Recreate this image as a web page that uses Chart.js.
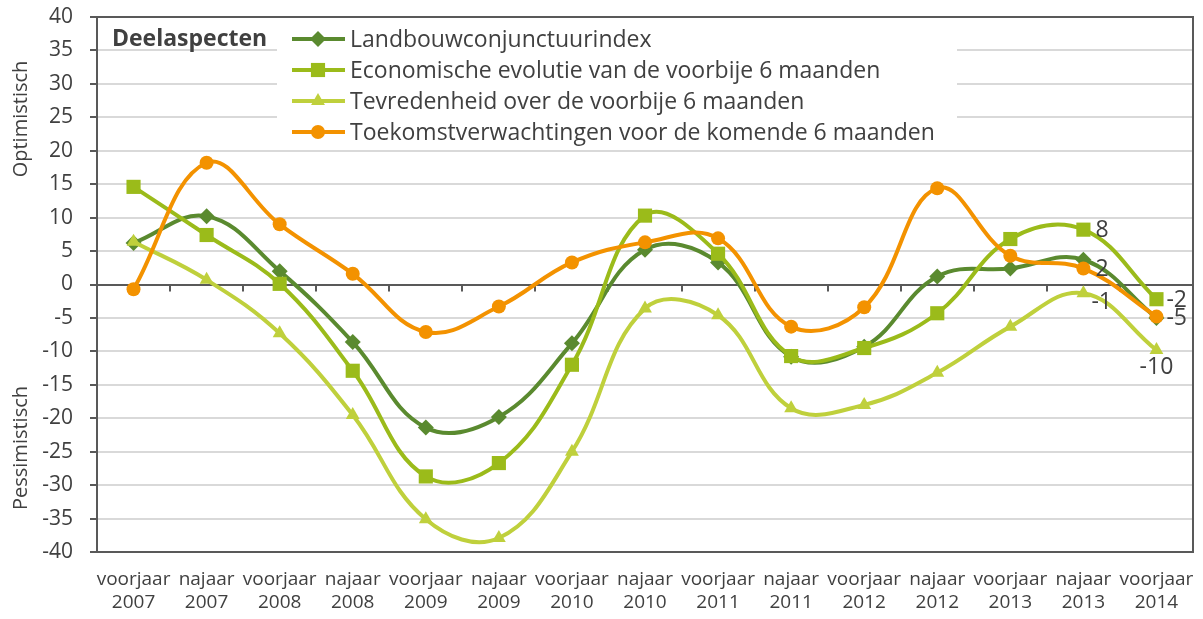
<!DOCTYPE html>
<html>
<head>
<meta charset="utf-8">
<script src="https://cdn.jsdelivr.net/npm/chart.js@4/dist/chart.umd.min.js"></script>
<style>
  body { margin: 0; background: #fff; }
  #wrap { width: 1203px; height: 619px; }
</style>
</head>
<body>
<div id="wrap"><canvas id="chart" width="1203" height="619"></canvas></div>
<script>
// categories (two-line labels) and series
var periods = [
  ['voorjaar', '2007'], ['najaar', '2007'], ['voorjaar', '2008'], ['najaar', '2008'],
  ['voorjaar', '2009'], ['najaar', '2009'], ['voorjaar', '2010'], ['najaar', '2010'],
  ['voorjaar', '2011'], ['najaar', '2011'], ['voorjaar', '2012'], ['najaar', '2012'],
  ['voorjaar', '2013'], ['najaar', '2013'], ['voorjaar', '2014']
];
var landbouw = [6.2, 10.2, 2.0, -8.6, -21.4, -19.8, -8.8, 5.2, 3.3, -10.8, -9.3, 1.2, 2.4, 3.7, -5.0];
var economie = [14.6, 7.4, 0.1, -12.9, -28.7, -26.7, -12.0, 10.3, 4.6, -10.7, -9.5, -4.3, 6.8, 8.2, -2.2];
var tevredenheid = [6.4, 0.7, -7.3, -19.5, -35.1, -37.9, -25.0, -3.6, -4.6, -18.5, -18.0, -13.2, -6.3, -1.3, -9.8];
var toekomst = [-0.7, 18.2, 9.0, 1.6, -7.1, -3.3, 3.3, 6.3, 6.9, -6.3, -3.4, 14.4, 4.3, 2.4, -4.8];

var seriesNames = [
  'Landbouwconjunctuurindex',
  'Economische evolutie van de voorbije 6 maanden',
  'Tevredenheid over de voorbije 6 maanden',
  'Toekomstverwachtingen voor de komende 6 maanden'
];
var yMin = -40, yMax = 40, yStep = 5;

// which points carry a value label: [dataset, point index]
var labelled = [[1, 13], [3, 13], [2, 13], [1, 14], [0, 14], [2, 14]];

var textColor = '#404040';
var axisColor = '#595959';
var colors = ['#5a8a2f', '#9bbb1a', '#bfd03c', '#f39200'];
var styles = ['rectRot', 'rect', 'triangle', 'circle'];
var radii = [8, 10, 8, 7];

function makeSet(i, data) {
  return {
    label: seriesNames[i],
    data: data,
    order: 3 - i, // later series on top, like the original
    borderColor: colors[i],
    backgroundColor: colors[i],
    borderWidth: 4,
    pointStyle: styles[i],
    pointRadius: radii[i],
    pointBorderWidth: 0,
    pointBackgroundColor: colors[i],
    tension: 0.4,
    clip: false
  };
}

// frame, zero-line ticks, legend, value labels, axis titles
var decorations = {
  id: 'decorations',
  beforeDatasetsDraw: function(chart) {
    var ctx = chart.ctx, a = chart.chartArea;
    var x = chart.scales.x, y = chart.scales.y;
    var y0 = y.getPixelForValue(0);
    ctx.save();
    ctx.strokeStyle = axisColor;
    ctx.lineWidth = 2;
    for (var i = 0; i <= periods.length; i++) {
      var px = Math.round(x.getPixelForValue(i - 0.5));
      ctx.beginPath();
      ctx.moveTo(px, y0);
      ctx.lineTo(px, y0 + 7);
      ctx.stroke();
    }
    ctx.strokeRect(a.left, a.top, a.right - a.left, a.bottom - a.top);

    // legend box
    ctx.fillStyle = '#fff';
    ctx.fillRect(277, 22, 680, 124);
    ctx.fillStyle = textColor;
    ctx.font = 'bold 23px "Open Sans"';
    ctx.textBaseline = 'middle';
    ctx.textAlign = 'left';
    ctx.fillText('Deelaspecten', 112, 39);
    ctx.font = '23px "Open Sans"';
    for (var k = 0; k < seriesNames.length; k++) {
      var ry = 39 + k * 31;
      ctx.strokeStyle = colors[k];
      ctx.lineWidth = 4;
      ctx.beginPath();
      ctx.moveTo(292, ry);
      ctx.lineTo(345, ry);
      ctx.stroke();
      ctx.fillStyle = colors[k];
      Chart.helpers.drawPoint(ctx, {pointStyle: styles[k], radius: radii[k], borderWidth: 0}, 318, ry);
      ctx.fillStyle = textColor;
      ctx.fillText(seriesNames[k], 350, ry + 1);
    }

    // axis titles
    ctx.font = '20px "Open Sans"';
    ctx.textAlign = 'center';
    ctx.translate(21, 119);
    ctx.rotate(-Math.PI / 2);
    ctx.fillText('Optimistisch', 0, 0);
    ctx.rotate(Math.PI / 2);
    ctx.translate(0, 448 - 119);
    ctx.rotate(-Math.PI / 2);
    ctx.fillText('Pessimistisch', 0, 0);
    ctx.restore();
  },
  afterDatasetsDraw: function(chart) {
    var ctx = chart.ctx;
    ctx.save();
    ctx.fillStyle = textColor;
    ctx.font = '23px "Open Sans"';
    ctx.textBaseline = 'middle';
    labelled.forEach(function(l) {
      var pt = chart.getDatasetMeta(l[0]).data[l[1]];
      var v = Math.round(chart.data.datasets[l[0]].data[l[1]]);
      var txt = String(v);
      if (l[0] === 2 && l[1] === 14) {
        ctx.textAlign = 'center';
        ctx.fillText(txt, pt.x, pt.y + 17);
      } else if (l[0] === 2) {
        ctx.textAlign = 'left';
        ctx.fillText(txt, pt.x + 8, pt.y + 9);
      } else {
        ctx.textAlign = 'left';
        ctx.fillText(txt, pt.x + (l[1] === 14 ? 10 : 12), pt.y + 1);
      }
    });
    ctx.restore();
  }
};

var ctx = document.getElementById('chart').getContext('2d');
var chart = new Chart(ctx, {
  type: 'line',
  data: {
    labels: periods,
    datasets: [
      makeSet(0, landbouw),
      makeSet(1, economie),
      makeSet(2, tevredenheid),
      makeSet(3, toekomst)
    ]
  },
  options: {
    responsive: false,
    animation: false,
    layout: { padding: { top: 17, right: 5, left: 0, bottom: 0 } },
    plugins: {
      legend: { display: false },
      tooltip: { enabled: false }
    },
    scales: {
      x: {
        offset: true,
        grid: { display: false, offset: true },
        border: { color: axisColor, width: 2 },
        ticks: {
          color: textColor,
          font: { family: 'Open Sans', size: 19 },
          padding: 8,
          maxRotation: 0,
          autoSkip: false
        },
        afterFit: function(s) {
          s.height = 67;
          s.paddingLeft = 0;
          s.paddingRight = 0;
        }
      },
      y: {
        min: yMin,
        max: yMax,
        ticks: {
          stepSize: yStep,
          color: textColor,
          font: { family: 'Open Sans', size: 21 },
          padding: 17
        },
        grid: {
          color: function(c) { return c.tick && c.tick.value === 0 ? axisColor : '#d9d9d9'; },
          lineWidth: 2,
          tickLength: 7,
          tickColor: axisColor
        },
        border: { color: axisColor, width: 2 },
        afterFit: function(s) {
          s.width = 97;
          s.paddingTop = 12;
          s.paddingBottom = 12;
        }
      }
    }
  },
  plugins: [decorations]
});
</script>
</body>
</html>
